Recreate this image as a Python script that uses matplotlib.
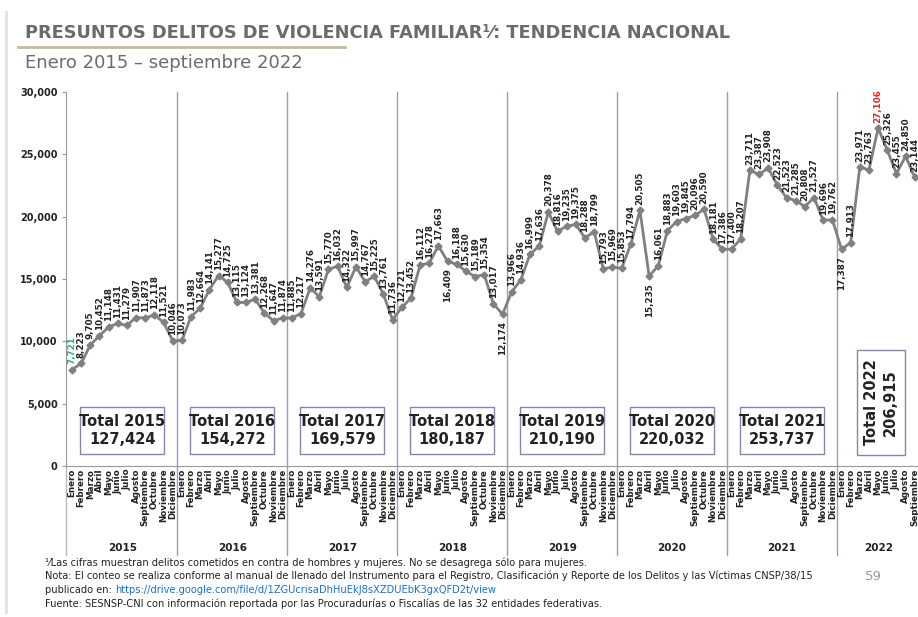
import matplotlib.pyplot as plt
from matplotlib.lines import Line2D
from matplotlib.patches import Rectangle

# datos mensuales (enero 2015 - septiembre 2022)
meses = ['Enero', 'Febrero', 'Marzo', 'Abril', 'Mayo', 'Junio', 'Julio',
         'Agosto', 'Septiembre', 'Octubre', 'Noviembre', 'Diciembre']
anios = [2015, 2016, 2017, 2018, 2019, 2020, 2021, 2022]
v2015 = [7721, 8223, 9705, 10452, 11148, 11431, 11279, 11907, 11873, 12118, 11521, 10046]
v2016 = [10073, 11983, 12664, 14141, 15277, 14725, 13115, 13124, 13381, 12268, 11647, 11874]
v2017 = [11885, 12217, 14276, 13591, 15770, 16032, 14322, 15997, 14767, 15225, 13761, 11736]
v2018 = [12721, 13452, 16112, 16278, 17663, 16409, 16188, 15630, 15189, 15354, 13017, 12174]
v2019 = [13966, 14936, 16999, 17636, 20378, 18816, 19235, 19375, 18288, 18799, 15793, 15969]
v2020 = [15853, 17794, 20505, 15235, 16061, 18883, 19603, 19845, 20096, 20590, 18181, 17386]
v2021 = [17400, 18207, 23711, 23387, 23908, 22523, 21523, 21285, 20808, 21527, 19696, 19762]
v2022 = [17387, 17913, 23971, 23763, 27106, 25326, 23455, 24850, 23144]
por_anio = [v2015, v2016, v2017, v2018, v2019, v2020, v2021, v2022]

valores = [v for lista in por_anio for v in lista]
x = list(range(len(valores)))
etiquetas_x = [meses[i % 12] for i in x]

W, H = 918, 617
fig = plt.figure(figsize=(W / 100, H / 100), dpi=100)
fig.patch.set_facecolor('white')

# ejes: 30,000 en y=92 px, 0 en y=466 px
ax = fig.add_axes([66 / W, 1 - 466 / H, 1 - 66 / W, (466 - 92) / H])
ax.set_xlim(-0.65, 92.35)
ax.set_ylim(0, 30000)
px = 30000 / (466 - 92)  # unidades por pixel

ax.plot(x, valores, color='#808080', lw=2, marker='D', ms=3.5,
        mfc='#808080', mec='#808080', zorder=3)

maximo = valores.index(max(valores))
abajo = {41, 47, 63, 84}
for i, v in enumerate(valores):
    color = '#222222'
    if i == 0:
        color = '#2db36b'
    elif i == maximo:
        color = '#e02424'
    if i in abajo:
        ax.annotate(f'{v:,}', (i, v), xytext=(0, -5), textcoords='offset points',
                    rotation=90, ha='center', va='top', fontsize=6.3,
                    color=color, fontweight='bold')
    else:
        ax.annotate(f'{v:,}', (i, v), xytext=(0, 4), textcoords='offset points',
                    rotation=90, ha='center', va='bottom', fontsize=6.3,
                    color=color, fontweight='bold')

ax.set_yticks(range(0, 30001, 5000))
ax.set_yticklabels([f'{t:,}' for t in range(0, 30001, 5000)],
                   fontsize=7, fontweight='bold', color='#222222')
ax.tick_params(axis='y', length=3, color='#999999', pad=3)
ax.set_xticks(x)
ax.set_xticklabels(etiquetas_x, rotation=90, fontsize=6.3,
                   fontweight='bold', color='#222222')
ax.tick_params(axis='x', length=0, pad=2)
for s in ['top', 'right']:
    ax.spines[s].set_visible(False)
ax.spines['left'].set_color('#999999')
ax.spines['bottom'].set_color('#999999')

# separadores de año y etiquetas
y_fondo = -(555 - 466) * px
ax.plot([-0.65, -0.65], [0, y_fondo], color='#bbbbbb', lw=1, clip_on=False)
for k, anio in enumerate(anios):
    if k > 0:
        xs = 12 * k - 0.5
        ax.plot([xs, xs], [30000, y_fondo], color='#a498c2', lw=1,
                clip_on=False, zorder=1)
    xc = 12 * k + 5.5 if anio != 2022 else 88
    ax.text(xc, -(548 - 466) * px, str(anio), ha='center', va='center',
            fontsize=7.5, fontweight='bold', color='#222222', clip_on=False)

# cuadros de totales
for k, anio in enumerate(anios):
    total = sum(por_anio[k])
    if anio != 2022:
        xc = 12 * k + 5.5
        ax.add_patch(Rectangle((xc - 4.6, 1000), 9.2, 3700, fc='white',
                               ec='#8e80ad', lw=1, zorder=4))
        ax.text(xc, 2850, f'Total {anio}\n{total:,}', ha='center', va='center',
                fontsize=10.5, fontweight='bold', color='#222222',
                linespacing=1.25, zorder=5)
    else:
        ax.add_patch(Rectangle((85.7, 900), 5.2, 8400, fc='white',
                               ec='#8e80ad', lw=1, zorder=4))
        ax.text(88.3, 5100, f'Total {anio}\n{total:,}', ha='center',
                va='center', rotation=90, fontsize=10.5, fontweight='bold',
                color='#222222', linespacing=1.25, zorder=5)

# borde de la diapositiva
fig.add_artist(Line2D([6 / W, 6 / W], [1 - 12 / H, 1 - 612 / H],
                      color='#e2e2e2', lw=2))

# titulo y subtitulo
fig.text(25 / W, 1 - 33 / H,
         'PRESUNTOS DELITOS DE VIOLENCIA FAMILIAR\u00b9\u2044: TENDENCIA NACIONAL',
         fontsize=12.8, fontweight='bold', color='#6b6b6b', va='center')
fig.add_artist(Line2D([18 / W, 345 / W], [1 - 47 / H] * 2, color='#c9b99b', lw=2))
fig.text(25 / W, 1 - 63 / H, 'Enero 2015 \u2013 septiembre 2022',
         fontsize=13, color='#6b6b6b', va='center')

# notas al pie
fx = 45 / W
fs = 7.1
fig.text(fx, 1 - 563 / H,
         '\u00b9\u2044Las cifras muestran delitos cometidos en contra de hombres y mujeres. '
         'No se desagrega sólo para mujeres.',
         fontsize=fs, color='#222222', va='center')
fig.text(fx, 1 - 576 / H,
         'Nota: El conteo se realiza conforme al manual de llenado del Instrumento para el '
         'Registro, Clasificación y Reporte de los Delitos y las Víctimas CNSP/38/15',
         fontsize=fs, color='#222222', va='center')
t1 = fig.text(fx, 1 - 590 / H, 'publicado en: ', fontsize=fs,
              color='#222222', va='center')
ax.annotate('https://drive.google.com/file/d/1ZGUcrisaDhHuEkJ8sXZDUEbK3gxQFD2t/view',
            xy=(1, 0.5), xycoords=t1, va='center', ha='left', fontsize=fs,
            color='#1a6fd6', annotation_clip=False)
fig.text(fx, 1 - 604 / H,
         'Fuente: SESNSP-CNI con información reportada por las Procuradurías o Fiscalías '
         'de las 32 entidades federativas.',
         fontsize=fs, color='#222222', va='center')
fig.text(865 / W, 1 - 576 / H, '59', fontsize=9.5, color='#999999', va='center')

fig.savefig('out.png', dpi=100, facecolor='white')
